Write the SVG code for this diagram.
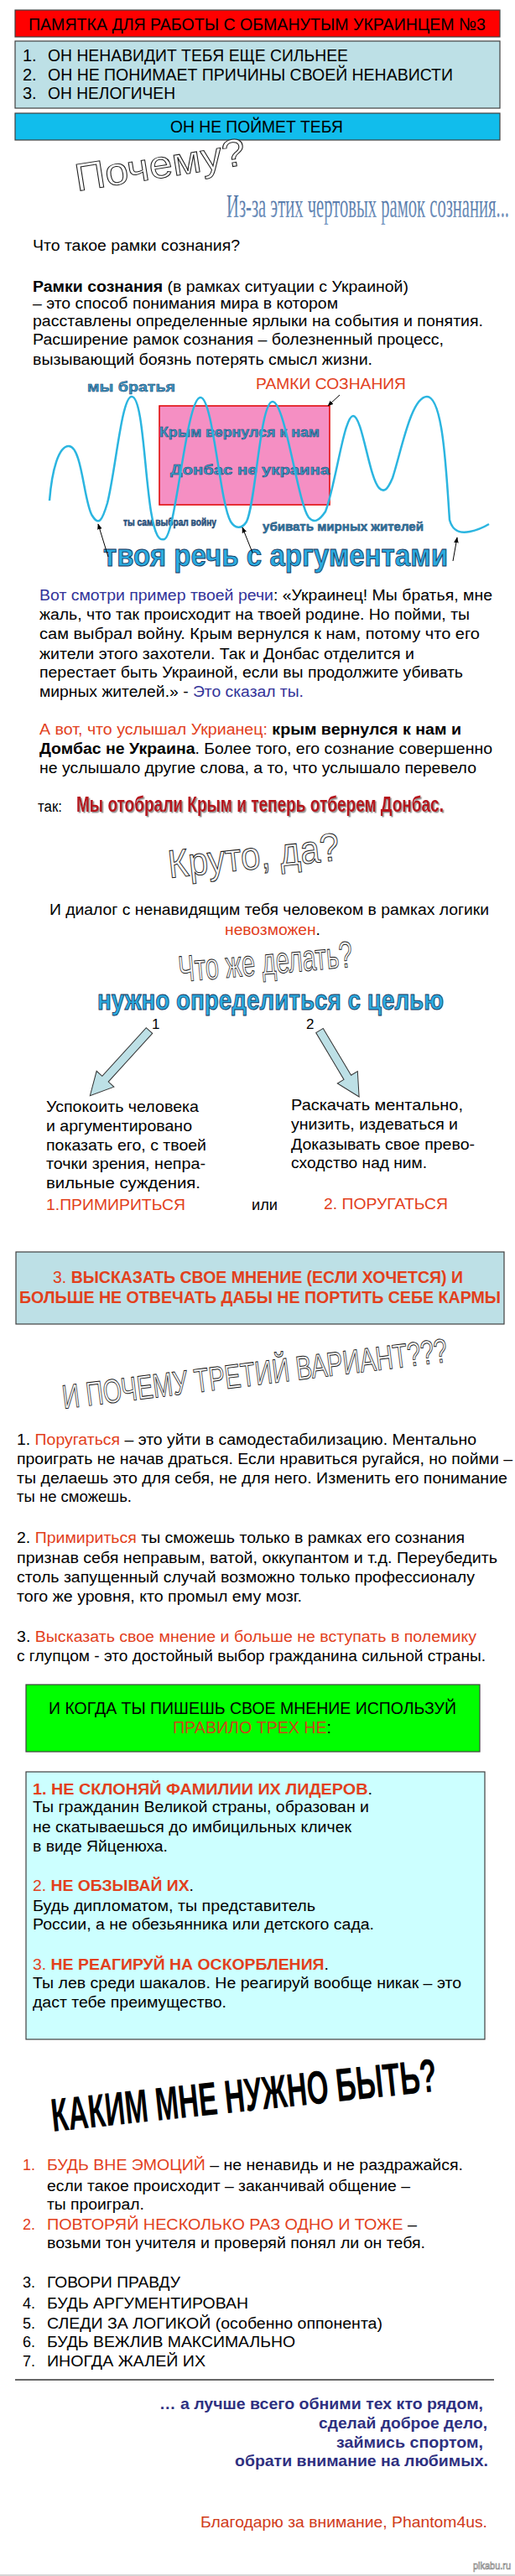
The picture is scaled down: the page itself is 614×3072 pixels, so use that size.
<svg xmlns="http://www.w3.org/2000/svg" width="614" height="3072" viewBox="0 0 614 3072" font-size="18">
<style>
text{font-family:"Liberation Sans",Arial,sans-serif}
.r{fill:#e2401c}
.bl{fill:#333399}
.b{font-weight:bold}
.wa{fill:#fff;stroke:#222;stroke-width:1}
.wb{fill:#2aabe0;stroke:#17375e;stroke-width:0.9;font-weight:bold}
.ws{fill:#3a9cc8;stroke:#1d3c6a;stroke-width:0.5;font-weight:bold}
.box{stroke:#404040;stroke-width:1.2}
.ar{stroke:#000;stroke-width:1;fill:none;marker-end:url(#ah)}
.blk{fill:#bde0e6;stroke:#333;stroke-width:1}
.nv{fill:#2e3080;font-weight:bold}
</style>
<defs>
<marker id="ah" viewBox="0 0 10 10" refX="9" refY="5" markerWidth="7" markerHeight="7" orient="auto-start-reverse" markerUnits="userSpaceOnUse">
<path d="M0,1 L10,5 L0,9 z" fill="#000"/>
</marker>
<filter id="sh" x="-5%" y="-20%" width="110%" height="150%">
<feDropShadow dx="1.5" dy="1.5" stdDeviation="0.6" flood-color="#777" flood-opacity="0.8"/>
</filter>
<linearGradient id="gsteel" x1="0" y1="0" x2="0" y2="1">
<stop offset="0" stop-color="#3f6598"/>
<stop offset="1" stop-color="#7d9cc6"/>
</linearGradient>
</defs>
<rect width="614" height="3072" fill="#fff"/>

<g id="header">
<rect x="18" y="12" width="578" height="32" fill="#ff0000" class="box"/>
<text x="34" y="36" font-size="21" textLength="545" lengthAdjust="spacingAndGlyphs">ПАМЯТКА ДЛЯ РАБОТЫ С ОБМАНУТЫМ УКРАИНЦЕМ №3</text>
</g>
<g id="list-top">
<rect x="18" y="49" width="578" height="80" fill="#bde0e6" class="box"/>
<text x="27" y="73" font-size="20">1.</text>
<text x="57" y="73" font-size="20" textLength="358" lengthAdjust="spacingAndGlyphs">ОН НЕНАВИДИТ ТЕБЯ ЕЩЕ СИЛЬНЕЕ</text>
<text x="27" y="96" font-size="20">2.</text>
<text x="57" y="96" font-size="20" textLength="483" lengthAdjust="spacingAndGlyphs">ОН НЕ ПОНИМАЕТ ПРИЧИНЫ СВОЕЙ НЕНАВИСТИ</text>
<text x="27" y="118" font-size="20">3.</text>
<text x="57" y="118" font-size="20" textLength="152" lengthAdjust="spacingAndGlyphs">ОН НЕЛОГИЧЕН</text>
</g>
<g id="wont-understand">
<rect x="18" y="135" width="578" height="32" fill="#11bdec" class="box"/>
<text x="203" y="158" font-size="20" textLength="206" lengthAdjust="spacingAndGlyphs">ОН НЕ ПОЙМЕТ ТЕБЯ</text>
</g>

<g id="why">
<text x="92" y="228" font-size="46" class="wa" textLength="205" lengthAdjust="spacingAndGlyphs" transform="rotate(-9 92 228)">Почему?</text>
<text x="270" y="259" style="font-family:'Liberation Serif',serif" font-size="40" fill="url(#gsteel)" textLength="337" lengthAdjust="spacingAndGlyphs">Из-за этих чертовых рамок сознания...</text>
</g>

<g id="definition">
<text x="39" y="299" textLength="247" lengthAdjust="spacingAndGlyphs">Что такое рамки сознания?</text>
<text x="39" y="348" textLength="448" lengthAdjust="spacingAndGlyphs"><tspan class="b">Рамки сознания</tspan> (в рамках ситуации с Украиной)</text>
<text x="39" y="368" textLength="364" lengthAdjust="spacingAndGlyphs">– это способ понимания мира в котором</text>
<text x="39" y="389" textLength="537" lengthAdjust="spacingAndGlyphs">расставлены определенные ярлыки на события и понятия.</text>
<text x="39" y="411" textLength="490" lengthAdjust="spacingAndGlyphs">Расширение рамок сознания – болезненный процесс,</text>
<text x="39" y="435" textLength="405" lengthAdjust="spacingAndGlyphs">вызывающий боязнь потерять смысл жизни.</text>
</g>

<g id="frame-diagram">
<rect x="190" y="484" width="203" height="118" fill="#f58fc3" stroke="#e00000" stroke-width="1.5"/>
<text x="305" y="464" font-size="19" class="r" textLength="179" lengthAdjust="spacingAndGlyphs">РАМКИ СОЗНАНИЯ</text>
<text x="104" y="467" font-size="16" class="ws" textLength="105" lengthAdjust="spacingAndGlyphs">мы братья</text>
<text x="190" y="521" font-size="16" class="ws" textLength="191" lengthAdjust="spacingAndGlyphs">Крым вернулся к нам</text>
<text x="203" y="566" font-size="16" class="ws" textLength="190" lengthAdjust="spacingAndGlyphs">Донбас не украина</text>
<text x="147" y="627" font-size="12" class="ws" style="fill:#2a5a85" textLength="111" lengthAdjust="spacingAndGlyphs">ты сам выбрал войну</text>
<text x="313" y="633" font-size="15" class="ws" style="fill:#2f7fa8" textLength="192" lengthAdjust="spacingAndGlyphs">убивать мирных жителей</text>
<path d="M59,597 C62,560 70,532 82,532 C98,532 100,600 110,615 C118,628 122,620 128,600 C138,560 145,473 157,473 C170,473 172,560 180,610 C185,640 190,645 196,643 C210,638 222,474 239,474 C254,474 262,600 275,622 C280,630 288,632 294,622 C305,600 310,479 325,479 C340,479 355,600 368,617 C374,624 380,622 388,610 C400,580 410,496 421,496 C432,496 440,570 452,582 C458,588 462,584 468,570 C478,540 490,473 509,473 C528,473 532,560 536,620 C540,635 550,636 560,634 C570,632 578,628 583,625" fill="none" stroke="#2bb5e0" stroke-width="2.5"/>
<text x="123" y="675" font-size="36" class="wb" textLength="411" lengthAdjust="spacingAndGlyphs">твоя речь с аргументами</text>
</g>
<g id="connectors">
<line x1="405" y1="471" x2="391" y2="484" class="ar"/>
<line x1="129" y1="664" x2="117" y2="625" class="ar"/>
<line x1="301" y1="659" x2="289" y2="629" class="ar"/>
<line x1="540" y1="669" x2="545" y2="641" class="ar"/>
</g>

<g id="example">
<text x="47" y="716" textLength="540" lengthAdjust="spacingAndGlyphs"><tspan class="bl">Вот смотри пример твоей речи</tspan>: «Украинец! Мы братья, мне</text>
<text x="47" y="739" textLength="513" lengthAdjust="spacingAndGlyphs">жаль, что так происходит на твоей родине. Но пойми, ты</text>
<text x="47" y="762" textLength="525" lengthAdjust="spacingAndGlyphs">сам выбрал войну. Крым вернулся к нам, потому что его</text>
<text x="47" y="786" textLength="447" lengthAdjust="spacingAndGlyphs">жители этого захотели. Так и Донбас отделится и</text>
<text x="47" y="808" textLength="505" lengthAdjust="spacingAndGlyphs">перестает быть Украиной, если вы продолжите убивать</text>
<text x="47" y="831" textLength="315" lengthAdjust="spacingAndGlyphs">мирных жителей.» - <tspan class="bl">Это сказал ты.</tspan></text>
<text x="47" y="876" textLength="503" lengthAdjust="spacingAndGlyphs"><tspan class="r">А вот, что услышал Укрианец: </tspan><tspan class="b">крым вернулся к нам и</tspan></text>
<text x="47" y="899" textLength="540" lengthAdjust="spacingAndGlyphs"><tspan class="b">Домбас не Украина</tspan>. Более того, его сознание совершенно</text>
<text x="47" y="922" textLength="521" lengthAdjust="spacingAndGlyphs">не услышало другие слова, а то, что услышало перевело</text>
<text x="45" y="968" textLength="29" lengthAdjust="spacingAndGlyphs">так:</text>
<text x="91" y="968" font-size="26" font-weight="bold" fill="#b5121b" filter="url(#sh)" textLength="438" lengthAdjust="spacingAndGlyphs">Мы отобрали Крым и теперь отберем Донбас.</text>
</g>

<g id="cool">
<text x="202" y="1047" font-size="47" class="wa" textLength="205" lengthAdjust="spacingAndGlyphs" transform="rotate(-6 202 1047)">Круто, да?</text>
<text x="59" y="1091" textLength="524" lengthAdjust="spacingAndGlyphs">И диалог с ненавидящим тебя человеком в рамках логики</text>
<text x="268" y="1115" textLength="114" lengthAdjust="spacingAndGlyphs"><tspan class="r">невозможен</tspan>.</text>
</g>

<g id="what-to-do">
<text x="214" y="1171" font-size="44" class="wa" textLength="208" lengthAdjust="spacingAndGlyphs" transform="rotate(-5 214 1171)">Что же делать?</text>
<text x="116" y="1204" font-size="33" class="wb" textLength="413" lengthAdjust="spacingAndGlyphs">нужно определиться с целью</text>
<text x="181" y="1227" font-size="17">1</text>
<text x="365" y="1227" font-size="17">2</text>
</g>

<g id="block-arrows">
<polygon class="blk" points="0,-5 78,-5 78,-14 105,0 78,14 78,5 0,5" transform="translate(178 1229) rotate(132.3)"/>
<polygon class="blk" points="0,-5 65,-5 65,-14 92,0 65,14 65,5 0,5" transform="translate(381 1229) rotate(59.2)"/>
</g>

<g id="option-1">
<text x="55" y="1326" font-size="19" textLength="182" lengthAdjust="spacingAndGlyphs">Успокоить человека</text>
<text x="55" y="1349" font-size="19" textLength="174" lengthAdjust="spacingAndGlyphs">и аргументировано</text>
<text x="55" y="1372" font-size="19" textLength="191" lengthAdjust="spacingAndGlyphs">показать его, с твоей</text>
<text x="55" y="1394" font-size="19" textLength="190" lengthAdjust="spacingAndGlyphs">точки зрения, непра-</text>
<text x="55" y="1417" font-size="19" textLength="184" lengthAdjust="spacingAndGlyphs">вильные суждения.</text>
<text x="55" y="1443" font-size="19" class="r" textLength="166" lengthAdjust="spacingAndGlyphs">1.ПРИМИРИТЬСЯ</text>
</g>
<text x="300" y="1443" font-size="19" textLength="31" lengthAdjust="spacingAndGlyphs">или</text>
<g id="option-2">
<text x="347" y="1324" font-size="19" textLength="205" lengthAdjust="spacingAndGlyphs">Раскачать ментально,</text>
<text x="347" y="1347" font-size="19" textLength="199" lengthAdjust="spacingAndGlyphs">унизить, издеваться и</text>
<text x="347" y="1371" font-size="19" textLength="219" lengthAdjust="spacingAndGlyphs">Доказывать свое прево-</text>
<text x="347" y="1393" font-size="19" textLength="162" lengthAdjust="spacingAndGlyphs">сходство над ним.</text>
<text x="386" y="1442" font-size="19" class="r" textLength="148" lengthAdjust="spacingAndGlyphs">2. ПОРУГАТЬСЯ</text>
</g>

<g id="option-3">
<rect x="19" y="1493" width="582" height="86" fill="#bde0e6" class="box"/>
<text x="63" y="1530" font-size="20" class="r" textLength="489" lengthAdjust="spacingAndGlyphs">3. <tspan class="b">ВЫСКАЗАТЬ СВОЕ МНЕНИЕ (ЕСЛИ ХОЧЕТСЯ) И</tspan></text>
<text x="23" y="1554" font-size="20" class="r b" textLength="574" lengthAdjust="spacingAndGlyphs">БОЛЬШЕ НЕ ОТВЕЧАТЬ ДАБЫ НЕ ПОРТИТЬ СЕБЕ КАРМЫ</text>
</g>

<g id="why-third">
<text x="76" y="1680" font-size="40" class="wa" textLength="462" lengthAdjust="spacingAndGlyphs" transform="rotate(-7 76 1680)">И ПОЧЕМУ ТРЕТИЙ ВАРИАНТ???</text>
</g>

<g id="explain">
<text x="20" y="1723" textLength="548" lengthAdjust="spacingAndGlyphs">1. <tspan class="r">Поругаться</tspan> – это уйти в самодестабилизацию. Ментально</text>
<text x="20" y="1746" textLength="591" lengthAdjust="spacingAndGlyphs">проиграть не начав драться. Если нравиться ругайся, но пойми –</text>
<text x="20" y="1769" textLength="585" lengthAdjust="spacingAndGlyphs">ты делаешь это для себя, не для него. Изменить его понимание</text>
<text x="20" y="1791" textLength="137" lengthAdjust="spacingAndGlyphs">ты не сможешь.</text>
<text x="20" y="1840" textLength="534" lengthAdjust="spacingAndGlyphs">2. <tspan class="r">Примириться</tspan> ты сможешь только в рамках его сознания</text>
<text x="20" y="1864" textLength="573" lengthAdjust="spacingAndGlyphs">признав себя неправым, ватой, оккупантом и т.д. Переубедить</text>
<text x="20" y="1887" textLength="546" lengthAdjust="spacingAndGlyphs">столь запущенный случай возможно только профессионалу</text>
<text x="20" y="1910" textLength="340" lengthAdjust="spacingAndGlyphs">того же уровня, кто промыл ему мозг.</text>
<text x="20" y="1958" textLength="548" lengthAdjust="spacingAndGlyphs">3. <tspan class="r">Высказать свое мнение и больше не вступать в полемику</tspan></text>
<text x="20" y="1981" textLength="559" lengthAdjust="spacingAndGlyphs">с глупцом - это достойный выбор гражданина сильной страны.</text>
</g>

<g id="rule-banner">
<rect x="31" y="2009" width="541" height="80" fill="#00ff00" class="box"/>
<text x="58" y="2044" font-size="20" textLength="486" lengthAdjust="spacingAndGlyphs">И КОГДА ТЫ ПИШЕШЬ СВОЕ МНЕНИЕ ИСПОЛЬЗУЙ</text>
<text x="206" y="2067" font-size="20" textLength="189" lengthAdjust="spacingAndGlyphs"><tspan fill="#cc4418">ПРАВИЛО ТРЕХ НЕ</tspan>:</text>
</g>

<g id="rules">
<rect x="31" y="2113" width="547" height="319" fill="#ccffff" class="box"/>
<text x="39" y="2140" textLength="405" lengthAdjust="spacingAndGlyphs"><tspan class="r b">1.  НЕ СКЛОНЯЙ ФАМИЛИИ ИХ ЛИДЕРОВ</tspan>.</text>
<text x="39" y="2161" textLength="401" lengthAdjust="spacingAndGlyphs">Ты гражданин Великой страны, образован и</text>
<text x="39" y="2185" textLength="380" lengthAdjust="spacingAndGlyphs">не скатываешься до имбицильных кличек</text>
<text x="39" y="2208" textLength="161" lengthAdjust="spacingAndGlyphs">в виде Яйценюха.</text>
<text x="39" y="2255" textLength="192" lengthAdjust="spacingAndGlyphs"><tspan class="r">2. </tspan><tspan class="r b">НЕ ОБЗЫВАЙ ИХ</tspan>.</text>
<text x="39" y="2279" textLength="337" lengthAdjust="spacingAndGlyphs">Будь дипломатом, ты представитель</text>
<text x="39" y="2301" textLength="407" lengthAdjust="spacingAndGlyphs">России, а не обезьянника или детского сада.</text>
<text x="39" y="2349" textLength="353" lengthAdjust="spacingAndGlyphs"><tspan class="r">3. </tspan><tspan class="r b">НЕ РЕАГИРУЙ НА ОСКОРБЛЕНИЯ</tspan>.</text>
<text x="39" y="2371" textLength="511" lengthAdjust="spacingAndGlyphs">Ты лев среди шакалов. Не реагируй вообще никак – это</text>
<text x="39" y="2394" textLength="231" lengthAdjust="spacingAndGlyphs">даст тебе преимущество.</text>
</g>

<g id="how-to-be">
<text x="63" y="2542" font-size="56" font-weight="bold" textLength="462" lengthAdjust="spacingAndGlyphs" transform="rotate(-6 63 2542)">КАКИМ МНЕ НУЖНО БЫТЬ?</text>
</g>

<g id="tips">
<text x="27" y="2588" class="r">1.</text>
<text x="56" y="2588" textLength="496" lengthAdjust="spacingAndGlyphs"><tspan class="r">БУДЬ ВНЕ ЭМОЦИЙ</tspan> – не ненавидь и не раздражайся.</text>
<text x="56" y="2613" textLength="433" lengthAdjust="spacingAndGlyphs">если такое происходит – заканчивай общение –</text>
<text x="56" y="2635" textLength="116" lengthAdjust="spacingAndGlyphs">ты проиграл.</text>
<text x="27" y="2659" class="r">2.</text>
<text x="56" y="2659" textLength="441" lengthAdjust="spacingAndGlyphs"><tspan class="r">ПОВТОРЯЙ НЕСКОЛЬКО РАЗ ОДНО И ТОЖЕ</tspan> –</text>
<text x="56" y="2681" textLength="451" lengthAdjust="spacingAndGlyphs">возьми тон учителя и проверяй понял ли он тебя.</text>
<text x="27" y="2728">3.</text>
<text x="56" y="2728" textLength="159" lengthAdjust="spacingAndGlyphs">ГОВОРИ ПРАВДУ</text>
<text x="27" y="2753">4.</text>
<text x="56" y="2753" textLength="240" lengthAdjust="spacingAndGlyphs">БУДЬ АРГУМЕНТИРОВАН</text>
<text x="27" y="2777">5.</text>
<text x="56" y="2777" textLength="400" lengthAdjust="spacingAndGlyphs">СЛЕДИ ЗА ЛОГИКОЙ (особенно оппонента)</text>
<text x="27" y="2799">6.</text>
<text x="56" y="2799" textLength="296" lengthAdjust="spacingAndGlyphs">БУДЬ ВЕЖЛИВ МАКСИМАЛЬНО</text>
<text x="27" y="2822">7.</text>
<text x="56" y="2822" textLength="189" lengthAdjust="spacingAndGlyphs">ИНОГДА ЖАЛЕЙ ИХ</text>
</g>

<line x1="18" y1="2838" x2="589" y2="2838" stroke="#333" stroke-width="1.5"/>

<g id="closing">
<text x="190" y="2873" font-size="19" class="nv" textLength="386" lengthAdjust="spacingAndGlyphs">… а лучше всего обними тех кто рядом,</text>
<text x="380" y="2896" font-size="19" class="nv" textLength="201" lengthAdjust="spacingAndGlyphs">сделай доброе дело,</text>
<text x="401" y="2919" font-size="19" class="nv" textLength="175" lengthAdjust="spacingAndGlyphs">займись спортом,</text>
<text x="280" y="2941" font-size="19" class="nv" textLength="302" lengthAdjust="spacingAndGlyphs">обрати внимание на любимых.</text>
<text x="239" y="3014" font-size="19" fill="#d03a1a" textLength="342" lengthAdjust="spacingAndGlyphs">Благодарю за внимание, Phantom4us.</text>
</g>

<text x="564" y="3064" font-size="12" fill="#fff" stroke="#777" stroke-width="0.6" textLength="45" lengthAdjust="spacingAndGlyphs">pikabu.ru</text>
<line x1="0" y1="3071" x2="614" y2="3071" stroke="#c8c8c8" stroke-width="1.5"/>
</svg>
